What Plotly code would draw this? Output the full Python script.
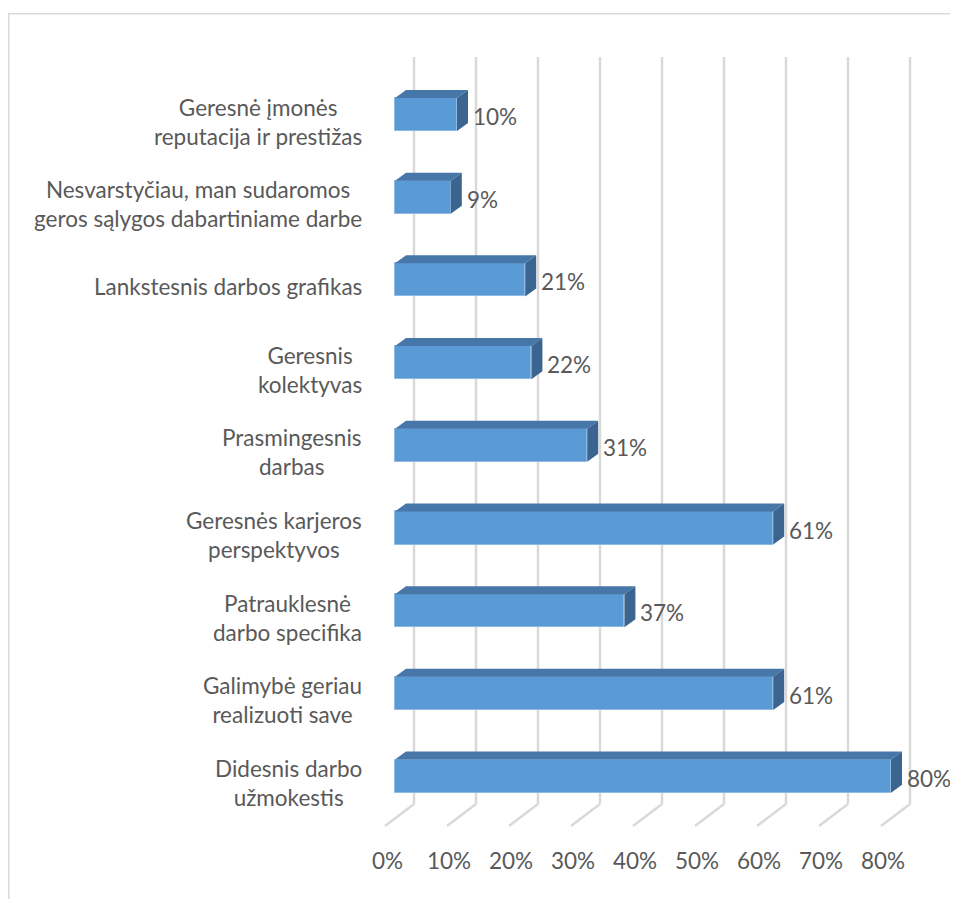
import plotly.graph_objects as go

# ---------------- data ----------------
categories = [
    "Geresnė įmonės<br>reputacija ir prestižas",
    "Nesvarstyčiau, man sudaromos<br>geros sąlygos dabartiniame darbe",
    "Lankstesnis darbos grafikas",
    "Geresnis<br>kolektyvas",
    "Prasmingesnis<br>darbas",
    "Geresnės karjeros<br>perspektyvos",
    "Patrauklesnė<br>darbo specifika",
    "Galimybė geriau<br>realizuoti save",
    "Didesnis darbo<br>užmokestis",
]
values = [10, 9, 21, 22, 31, 61, 37, 61, 80]
tick_values = [0, 10, 20, 30, 40, 50, 60, 70, 80]
tick_labels = ["0%", "10%", "20%", "30%", "40%", "50%", "60%", "70%", "80%"]

# ---------------- layout geometry (pixels, page coordinates) ----------------
PAGE_OFF = 8                   # browser body margin
W, H = 958 - PAGE_OFF, 899 - PAGE_OFF
PX_PER_UNIT = 6.2              # pixels per 1 %
X0_PX = 395 - PAGE_OFF         # pixel of 0 % on the bar front plane
Y0_PX = 114.5 - PAGE_OFF       # pixel centre of first category
ROW_PX = 82.7                  # pixels per category
BAR_H = 0.4                    # bar thickness in category units
DEPTH_DX, DEPTH_DY = 11, 8     # bar depth (px)
BACK_DX = 19                   # back wall offset from bar plane (px)
FRONT_DX = -10                 # front edge offset from bar plane (px)
GRID_TOP_PX = 57 - PAGE_OFF
GRID_BACK_BOTTOM_PX = 804 - PAGE_OFF
GRID_FRONT_PX = 826 - PAGE_OFF
TICK_Y_PX = 860 - PAGE_OFF
CAT_RIGHT_PX = 364 - PAGE_OFF
BORDER_X_PX, BORDER_Y_PX = 8 - PAGE_OFF, 13 - PAGE_OFF

FONT = "Lato, 'Open Sans', sans-serif"
FSIZE = 22.5
TXT = "#595959"
GRID = "#d9d9d9"
FRONT_COL = "#5b9bd5"
TOP_COL = "#4677a8"
SIDE_COL = "#3b6590"

def dxu(px):
    return px / PX_PER_UNIT

def ypx(py):
    return (py - Y0_PX) / ROW_PX

def dyu(px):
    return px / ROW_PX

x_range = [(0 - X0_PX) / PX_PER_UNIT, (W - X0_PX) / PX_PER_UNIT]
y_range = [ypx(H), ypx(0)]

idx = list(range(len(values)))

fig = go.Figure()
fig.add_trace(go.Bar(
    x=values, y=idx, orientation="h", width=BAR_H,
    marker=dict(color=FRONT_COL, line=dict(color="#8fb9e3", width=1)),
    hoverinfo="skip", showlegend=False,
))

shapes = []
# gridlines: back wall verticals + floor diagonals
for t in tick_values:
    xb = t + dxu(BACK_DX)
    xf = t + dxu(FRONT_DX)
    shapes.append(dict(type="line", layer="below", xref="x", yref="y",
                       x0=xb, x1=xb, y0=ypx(GRID_TOP_PX), y1=ypx(GRID_BACK_BOTTOM_PX),
                       line=dict(color=GRID, width=2.5)))
    shapes.append(dict(type="line", layer="below", xref="x", yref="y",
                       x0=xb, x1=xf, y0=ypx(GRID_BACK_BOTTOM_PX), y1=ypx(GRID_FRONT_PX),
                       line=dict(color=GRID, width=2.5)))

# 3D faces of bars
for i, v in zip(idx, values):
    top = i - BAR_H / 2
    bot = i + BAR_H / 2
    ddx, ddy = dxu(DEPTH_DX), dyu(DEPTH_DY)
    top_path = (f"M {0} {top} L {v} {top} L {v + ddx} {top - ddy} "
                f"L {ddx} {top - ddy} Z")
    side_path = (f"M {v} {top} L {v + ddx} {top - ddy} L {v + ddx} {bot - ddy} "
                 f"L {v} {bot} Z")
    shapes.append(dict(type="path", path=top_path, xref="x", yref="y", layer="above",
                       fillcolor=TOP_COL, line=dict(width=0)))
    shapes.append(dict(type="path", path=side_path, xref="x", yref="y", layer="above",
                       fillcolor=SIDE_COL, line=dict(width=0)))

# chart-area border (left + top)
bx = (BORDER_X_PX + 0.75) / W
by = 1 - (BORDER_Y_PX + 0.75) / H
shapes.append(dict(type="path", xref="paper", yref="paper", layer="below",
                   path=f"M {bx} 0 L {bx} {by} L 1 {by}",
                   line=dict(color=GRID, width=1.5)))

annotations = []
# category labels
for i, c in zip(idx, categories):
    annotations.append(dict(
        x=(CAT_RIGHT_PX - X0_PX) / PX_PER_UNIT, y=i + dyu(7), xref="x", yref="y",
        text=c, showarrow=False, xanchor="right", yanchor="middle", align="center",
        font=dict(family=FONT, size=FSIZE, color=TXT),
    ))
# data labels
for i, v in zip(idx, values):
    annotations.append(dict(
        x=v + dxu(DEPTH_DX + 3), y=i + dyu(2), xref="x", yref="y",
        text=f"{v}%", showarrow=False, xanchor="left", yanchor="middle",
        font=dict(family=FONT, size=FSIZE, color=TXT),
    ))
# value-axis tick labels
for t, lab in zip(tick_values, tick_labels):
    annotations.append(dict(
        x=t + dxu(FRONT_DX + 2), y=ypx(TICK_Y_PX), xref="x", yref="y",
        text=lab, showarrow=False, xanchor="center", yanchor="middle",
        font=dict(family=FONT, size=FSIZE, color=TXT),
    ))

fig.update_layout(
    width=W, height=H,
    margin=dict(l=0, r=0, t=0, b=0, pad=0, autoexpand=False),
    paper_bgcolor="white", plot_bgcolor="white",
    xaxis=dict(range=x_range, visible=False, fixedrange=True),
    yaxis=dict(range=y_range, visible=False, fixedrange=True),
    shapes=shapes, annotations=annotations,
    bargap=0,
)

fig.write_html("out.html")
